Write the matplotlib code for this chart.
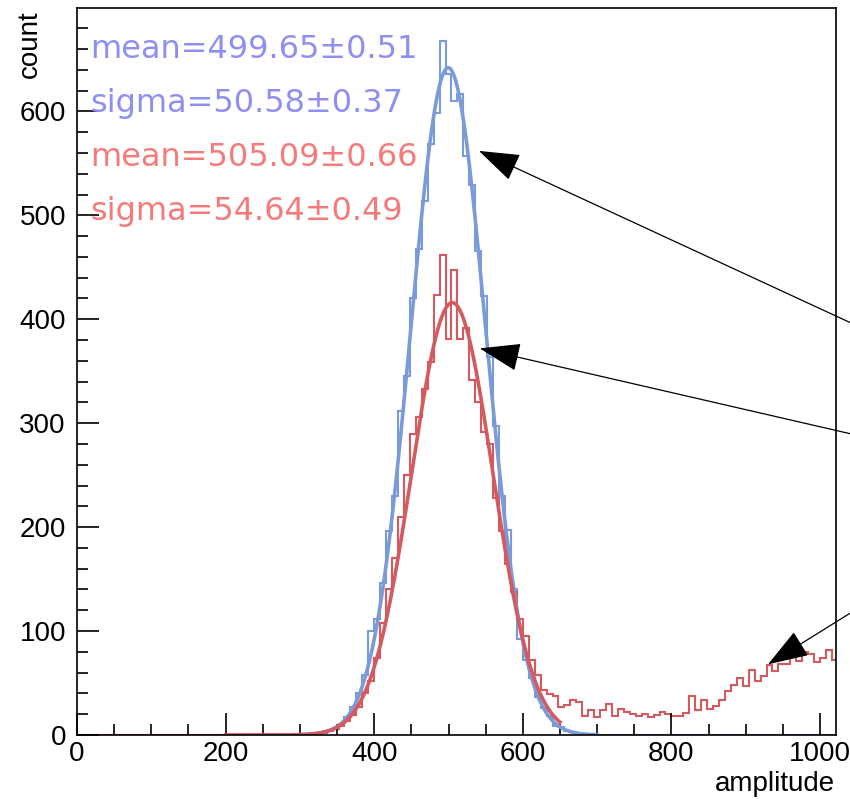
import numpy as np
import matplotlib
matplotlib.use("Agg")
import matplotlib.pyplot as plt
from matplotlib.ticker import MultipleLocator

# histogram binning: 128 bins of width 8 over 0..1024
BIN_WIDTH = 8
N_BINS = 128

# blue histogram (counts), first bin starts at 288
blue_start = 288
blue_counts = [1, 0, 1, 1, 2, 3, 5, 6, 11, 17, 27, 40, 58, 100, 112, 146,
               196, 230, 312, 345, 420, 468, 514, 569, 598, 668, 636, 610, 617, 557, 529, 466,
               422, 364, 297, 230, 197, 140, 92, 72, 55, 37, 26, 18, 9, 8, 4, 3,
               2, 1, 0]

# red histogram (counts), first bin starts at 296
red_start = 296
red_counts = [0, 1, 1, 2, 2, 4, 6, 9, 13, 19, 27, 40, 52, 74, 108, 140,
              170, 210, 250, 290, 306, 333, 359, 423, 462, 381, 447, 381, 392, 342, 320, 292,
              280, 228, 196, 165, 138, 112, 95, 72, 58, 43, 39, 38, 27, 29, 34, 32,
              18, 24, 17, 24, 30, 18, 25, 22, 20, 18, 20, 17, 19, 22, 20, 18,
              18, 21, 38, 24, 34, 25, 28, 34, 42, 48, 55, 47, 63, 52, 57, 67,
              62, 68, 68, 77, 71, 80, 78, 70, 74, 82, 72]

# gaussian fit results
blue_mean, blue_sigma, blue_amp = 499.65, 50.58, 642
red_mean, red_sigma, red_amp = 505.09, 54.64, 416
blue_fit_range = (290, 700)
red_fit_range = (200, 650)

stat_lines = ["mean=499.65\u00b10.51", "sigma=50.58\u00b10.37",
              "mean=505.09\u00b10.66", "sigma=54.64\u00b10.49"]

# arrows: (tip, tail) in data coords, tail sits outside the frame
arrows = [((541, 562), (1040, 397)),
          ((542, 372), (1040, 290)),
          ((930, 68), (1040, 117))]

BLUE = "#7a9bd8"
RED = "#d45a5f"
BLUE_TXT = "#8f8ff2"
RED_TXT = "#f77a7a"

edges = np.arange(0, N_BINS * BIN_WIDTH + 1, BIN_WIDTH)
blue_full = np.zeros(N_BINS)
i0 = blue_start // BIN_WIDTH
blue_full[i0:i0 + len(blue_counts)] = blue_counts
red_full = np.zeros(N_BINS)
i0 = red_start // BIN_WIDTH
red_full[i0:i0 + len(red_counts)] = red_counts


def gaus(x, amp, mean, sigma):
    return amp * np.exp(-0.5 * ((x - mean) / sigma) ** 2)


fig = plt.figure(figsize=(8.5, 7.99), dpi=100)
ax = fig.add_axes([77 / 850, 64 / 799, 759 / 850, 727 / 799])

ax.stairs(blue_full, edges, color=BLUE, lw=1.5)
ax.stairs(red_full, edges, color=RED, lw=1.5)

xb = np.linspace(*blue_fit_range, 400)
ax.plot(xb, gaus(xb, blue_amp, blue_mean, blue_sigma), color=BLUE, lw=2.6)
xr = np.linspace(*red_fit_range, 400)
ax.plot(xr, gaus(xr, red_amp, red_mean, red_sigma), color=RED, lw=2.6)

ax.set_xlim(0, 1021.5)
ax.set_ylim(0, 699.5)

ax.xaxis.set_major_locator(MultipleLocator(200))
ax.xaxis.set_minor_locator(MultipleLocator(50))
ax.yaxis.set_major_locator(MultipleLocator(100))
ax.yaxis.set_minor_locator(MultipleLocator(20))
ax.tick_params(which="both", direction="in", top=False, right=False, width=1.2)
ax.tick_params(which="major", length=16)
ax.tick_params(which="minor", length=8)
ax.tick_params(axis="x", pad=4)
ax.tick_params(axis="y", pad=8)
ax.set_yticks(np.arange(0, 700, 100))
for lab in ax.get_xticklabels() + ax.get_yticklabels():
    lab.set_fontfamily("Liberation Sans")
    lab.set_fontsize(20)
for sp in ax.spines.values():
    sp.set_linewidth(1.2)

# stat box texts
for k, (txt, col) in enumerate(zip(stat_lines, [BLUE_TXT, BLUE_TXT, RED_TXT, RED_TXT])):
    fig.text(90 / 850, 1 - (58 + 54 * k) / 799, txt, color=col, fontsize=23,
             family="DejaVu Sans", ha="left", va="baseline")

for tip, tail in arrows:
    ax.annotate("", xy=tip, xytext=tail, annotation_clip=False,
                arrowprops=dict(arrowstyle="-|>,head_length=2.6,head_width=0.9",
                                mutation_scale=10, color="black", lw=0.9,
                                shrinkA=0, shrinkB=0))

fig.text(30 / 850, 1 - 10 / 799, "count", rotation=90, ha="center", va="top",
         family="Liberation Sans", fontsize=20)
fig.text(835 / 850, 1 - 791 / 799, "amplitude", ha="right", va="baseline",
         family="Liberation Sans", fontsize=20)

fig.savefig("out.png", dpi=100)
